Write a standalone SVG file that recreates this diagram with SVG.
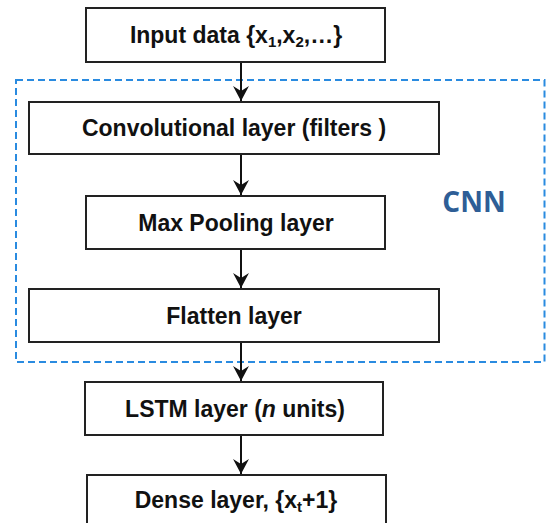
<svg xmlns="http://www.w3.org/2000/svg" width="547" height="523" viewBox="0 0 547 523">
<defs>
<style>
.box{fill:#fff;stroke:#222;stroke-width:2}
.lbl{font-family:"Liberation Sans",Arial,sans-serif;font-weight:bold;font-size:23px;fill:#111;text-anchor:middle}
.sub{font-size:15px}
.conn{stroke:#111;stroke-width:2;fill:none;marker-end:url(#arr)}
.cnn{fill:none;stroke:#2a8be0;stroke-width:2;stroke-dasharray:7 4}
</style>
<marker id="arr" markerUnits="userSpaceOnUse" markerWidth="18" markerHeight="18" viewBox="0 0 18 18" refX="16" refY="9" orient="auto">
<path d="M16,9 L1,1 L6,9 L1,17 Z" fill="#111"/>
</marker>
</defs>
<rect class="cnn" x="16" y="80" width="528.5" height="282"/>
<text x="474" y="212" font-family="Open Sans,Lato,sans-serif" font-weight="bold" font-size="28" fill="#2e5e96" text-anchor="middle">CNN</text>
<g id="connectors">
<line class="conn" x1="241" y1="62" x2="241" y2="101"/>
<line class="conn" x1="241" y1="154" x2="241" y2="195"/>
<line class="conn" x1="241" y1="249" x2="241" y2="288"/>
<line class="conn" x1="241" y1="342" x2="241" y2="381"/>
<line class="conn" x1="241" y1="435" x2="241" y2="474"/>
</g>
<g id="input"><rect class="box" x="86" y="8" width="299" height="54"/>
<text class="lbl" x="236" y="43">Input data {x<tspan class="sub" dy="4">1</tspan><tspan dy="-4">,x</tspan><tspan class="sub" dy="4">2</tspan><tspan dy="-4">,…}</tspan></text></g>
<g id="conv"><rect class="box" x="29" y="102" width="410" height="52"/>
<text class="lbl" x="234" y="136">Convolutional layer (filters )</text></g>
<g id="maxpool"><rect class="box" x="86" y="196" width="299" height="53"/>
<text class="lbl" x="236" y="231">Max Pooling layer</text></g>
<g id="flatten"><rect class="box" x="29" y="289" width="410" height="53"/>
<text class="lbl" x="234" y="324">Flatten layer</text></g>
<g id="lstm"><rect class="box" x="85" y="382" width="298" height="53"/>
<text class="lbl" x="235" y="417">LSTM layer (<tspan font-style="italic">n</tspan> units)</text></g>
<g id="dense"><rect class="box" x="87" y="475" width="299" height="56"/>
<text class="lbl" x="236" y="508">Dense layer, {x<tspan class="sub" dy="4">t</tspan><tspan dy="-4">+1}</tspan></text></g>
</svg>
